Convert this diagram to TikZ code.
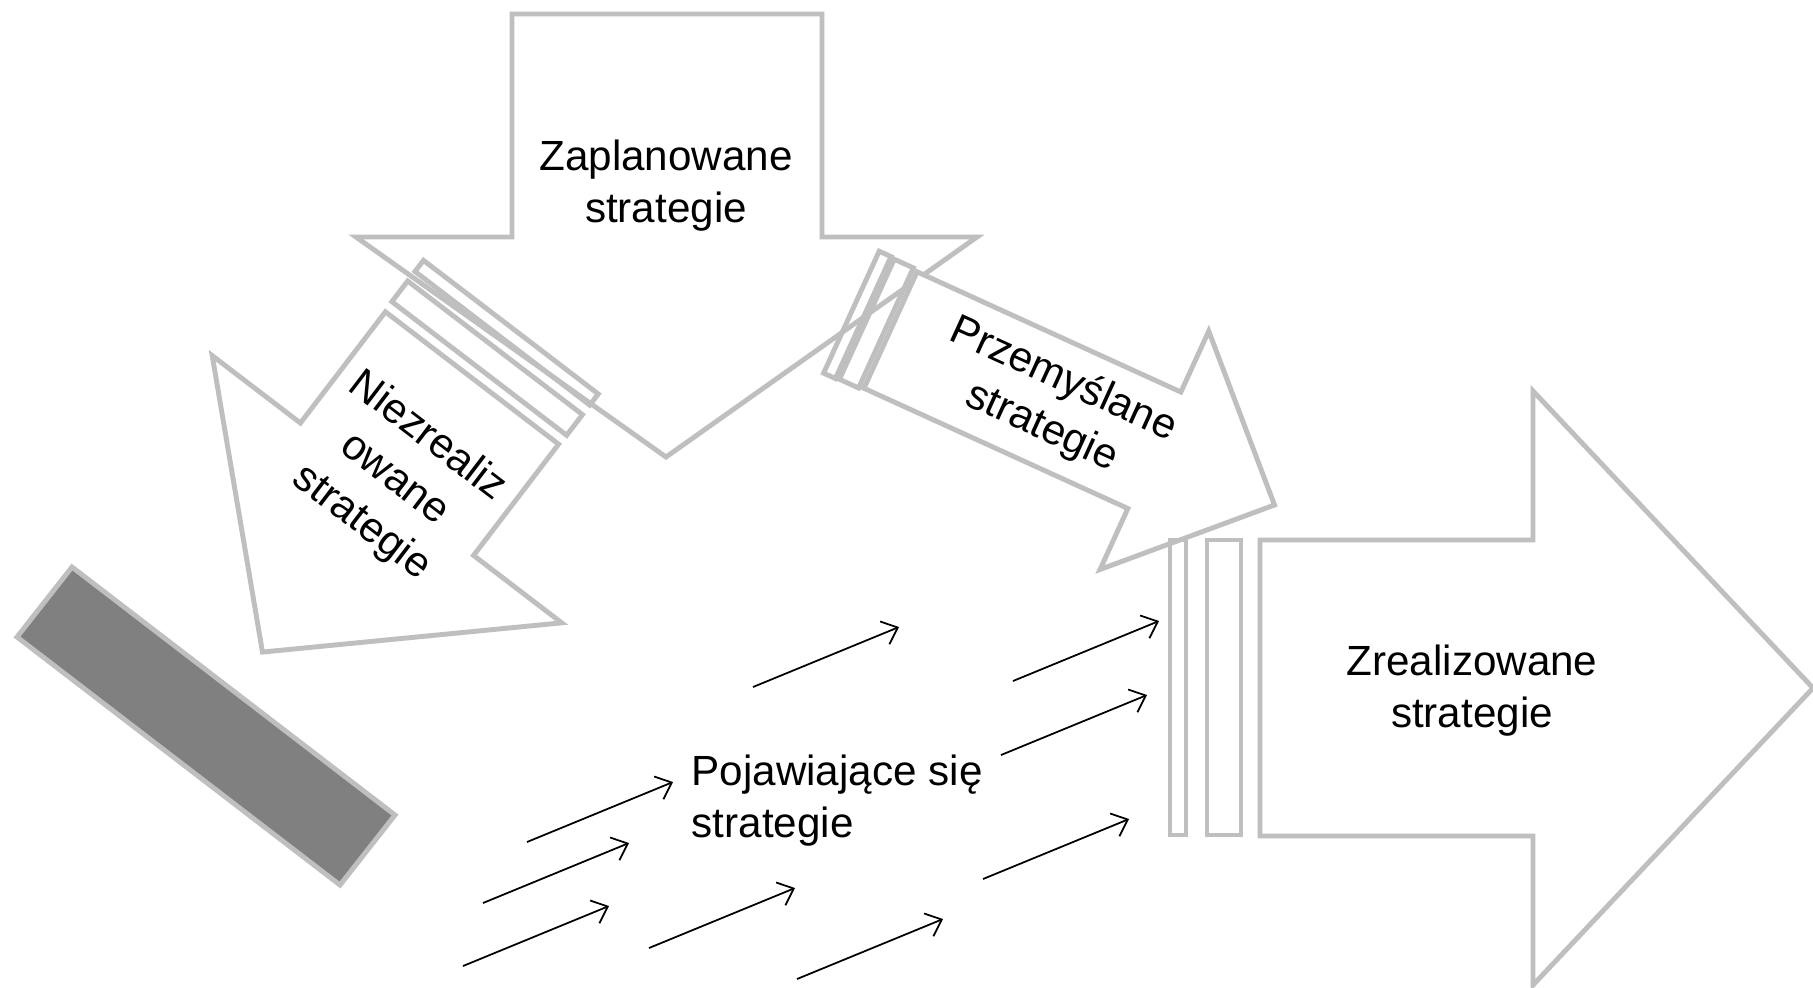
\documentclass[tikz,border=0pt]{standalone}
\usepackage{fontspec}
\setmainfont{Liberation Sans}
\usetikzlibrary{arrows.meta}
\definecolor{obrys}{HTML}{BFBFBF}
\definecolor{belka}{HTML}{808080}
\tikzset{
  blok/.style={draw=obrys, line width=1.4pt, fill=white},
  pasek/.style={draw=obrys, line width=1.4pt},
  napis/.style={align=center, inner sep=0pt, font=\fontsize{12pt}{14.8pt}\selectfont},
  nurt/.style={-{Straight Barb[length=4pt,width=7pt]}, line width=0.5pt}
}

\begin{document}
\begin{tikzpicture}[x=0.01cm, y=-0.01cm]
\useasboundingbox (0,0) rectangle (1813,987);

% zaplanowane
\draw[blok] (512,14) -- (822,14) -- (822,237) -- (977,237) -- (666,457) -- (356,237) -- (512,237) -- cycle;
\node[napis] (zapl) at (666,186) {Zaplanowane\\strategie};

% niezrealizowane
\begin{scope}[shift={(472,378)}, rotate=-127.4]
  \draw[blok] (0,-109) -- (140,-109) -- (140,-220) -- (345,0) -- (140,220) -- (140,109) -- (0,109) -- cycle;
  \draw[pasek] (-38,-110) rectangle (-12,110);
  \draw[pasek] (-64,-110) rectangle (-50,110);
  \node[napis, font=\fontsize{12pt}{15.4pt}\selectfont, rotate=-37.4] (niez) at (128,0) {Niezrealiz\\owane\\strategie};
\end{scope}

% przemyslane
\begin{scope}[shift={(890.5,330)}, rotate=-24.5]
  \draw[blok] (0,-64) -- (290,-64) -- (290,-131) -- (422,0) -- (290,131) -- (290,64) -- (0,64) -- cycle;
  \draw[pasek] (-26,-66) rectangle (-5,66);
  \draw[pasek] (-43,-67) rectangle (-30,67);
  \node[napis, rotate=-24.5] (przem) at (178,0) {Przemyślane\\strategie};
\end{scope}

% zrealizowane
\draw[blok] (1260,540) -- (1533,540) -- (1533,391) -- (1813,688) -- (1533,985) -- (1533,836) -- (1260,836) -- cycle;
\draw[pasek] (1170,540) rectangle (1186,835);
\draw[pasek] (1207,540) rectangle (1241,835);
\node[napis] (zreal) at (1472,691) {Zrealizowane\\strategie};

% belka
\draw[draw=obrys, fill=belka, line width=1.4pt] (17,637) -- (72,567) -- (395,815) -- (340,885) -- cycle;

% pojawiajace sie
\node[napis, align=left, anchor=west] (poja) at (691,801) {Pojawiające się\\strategie};
\foreach \n/\a/\b in {1/753/687, 2/1013/681, 3/1001/755, 4/527/842, 5/483/903,
                      6/463/966, 7/649/948, 8/797/979, 9/983/879}
{
  \coordinate (n\n) at (\a,\b);
  \draw[nurt] (n\n) -- ++(146,-60);
}
\end{tikzpicture}
\end{document}
